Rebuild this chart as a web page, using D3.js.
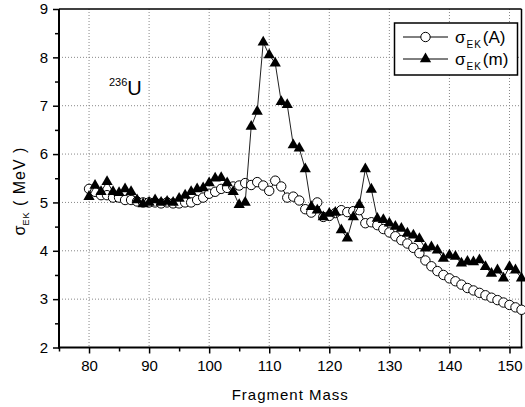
<!DOCTYPE html>
<html><head><meta charset="utf-8">
<script src="https://cdn.jsdelivr.net/npm/d3@7"></script>
<style>
body{margin:0;background:#fff;}
svg{display:block;font-family:"Liberation Sans",Arial,sans-serif;}
</style></head><body>
<svg id="c" width="525" height="407"></svg>
<script>
const massesA = d3.range(80, 153);
const sigmaA = [5.28,5.22,5.15,5.15,5.10,5.10,5.05,5.05,5.02,5.00,
  5.00,5.00,4.98,5.00,4.98,4.98,5.00,5.00,5.05,5.10,
  5.18,5.22,5.28,5.30,5.33,5.35,5.40,5.36,5.42,5.35,
  5.24,5.45,5.33,5.10,5.12,5.04,4.86,4.79,5.00,4.70,
  4.72,4.78,4.84,4.80,4.82,4.84,4.57,4.59,4.53,4.45,
  4.38,4.30,4.22,4.15,4.06,3.95,3.80,3.68,3.58,3.50,
  3.43,3.37,3.30,3.23,3.18,3.13,3.08,3.03,2.98,2.93,
  2.88,2.83,2.78];
const massesM = d3.range(80, 153);
const sigmaM = [5.12,5.35,5.22,5.43,5.22,5.20,5.28,5.22,5.05,4.97,
  5.00,5.05,5.00,5.02,5.00,5.08,5.15,5.22,5.28,5.30,
  5.40,5.50,5.51,5.40,5.22,4.95,5.00,6.57,6.88,8.31,
  8.05,7.88,7.08,7.02,6.19,6.12,5.69,4.91,4.84,4.70,
  4.77,4.79,4.43,4.26,4.70,4.95,5.69,5.27,4.67,4.64,
  4.57,4.50,4.46,4.36,4.32,4.25,4.05,4.08,4.01,3.84,
  3.91,3.88,3.74,3.78,3.77,3.81,3.67,3.53,3.60,3.43,
  3.67,3.60,3.43];
const xMajorTicks = [80,90,100,110,120,130,140,150];
const xMinorTicks = [75,85,95,105,115,125,135,145];
const yMajorTicks = [2,3,4,5,6,7,8,9];
const yMinorTicks = [2.5,3.5,4.5,5.5,6.5,7.5,8.5];
const seriesNames = ["(A)","(m)"];

const L=59, R=521.5, T=9, B=347.5;
const svg = d3.select("#c");
const x = d3.scaleLinear().domain([75,152]).range([L,R]);
const y = d3.scaleLinear().domain([2,9]).range([B,T]);

// grid
const g = svg.append("g");
g.selectAll("line.gx").data(xMajorTicks).join("line")
  .attr("x1",d=>x(d)).attr("x2",d=>x(d)).attr("y1",T).attr("y2",B)
  .attr("stroke","#888").attr("stroke-width",1).attr("stroke-dasharray","1,2");
g.selectAll("line.gy").data(yMajorTicks.filter(d=>d>2&&d<9)).join("line")
  .attr("y1",d=>y(d)).attr("y2",d=>y(d)).attr("x1",L).attr("x2",R)
  .attr("stroke","#888").attr("stroke-width",1).attr("stroke-dasharray","1,2");

// axes
const axB = svg.append("g").attr("transform",`translate(0,${B})`)
  .call(d3.axisBottom(x).tickValues(xMajorTicks).tickSize(6).tickPadding(4).tickFormat(d3.format("d")));
const axBm = svg.append("g").attr("transform",`translate(0,${B})`)
  .call(d3.axisBottom(x).tickValues(xMinorTicks).tickSize(4).tickFormat(""));
const axL = svg.append("g").attr("transform",`translate(${L},0)`)
  .call(d3.axisLeft(y).tickValues(yMajorTicks).tickSize(6).tickPadding(5).tickFormat(d3.format("d")));
const axLm = svg.append("g").attr("transform",`translate(${L},0)`)
  .call(d3.axisLeft(y).tickValues(yMinorTicks).tickSize(4).tickFormat(""));
[axB,axBm,axL,axLm].forEach(a=>{
  a.select(".domain").remove();
  a.selectAll(".tick line").attr("stroke","#000").attr("stroke-width",1.5);
  a.selectAll("text").attr("font-size",15).attr("fill","#000")
    .attr("font-family","Liberation Sans, Arial, sans-serif");
});
axB.selectAll("text").attr("dy","0.9em");

// frame
svg.append("line").attr("x1",L).attr("x2",L).attr("y1",T).attr("y2",B+1).attr("stroke","#000").attr("stroke-width",2);
svg.append("line").attr("x1",L-1).attr("x2",R+1).attr("y1",B).attr("y2",B).attr("stroke","#000").attr("stroke-width",2);
svg.append("line").attr("x1",L).attr("x2",R).attr("y1",T).attr("y2",T).attr("stroke","#000").attr("stroke-width",1.5);
svg.append("line").attr("x1",R).attr("x2",R).attr("y1",T).attr("y2",B).attr("stroke","#000").attr("stroke-width",1.5);

// data
const dataA = massesA.map((m,i)=>[m,sigmaA[i]]);
const dataM = massesM.map((m,i)=>[m,sigmaM[i]]);
const line = d3.line().x(d=>x(d[0])).y(d=>y(d[1]));
const pg = svg.append("g");
pg.append("path").attr("d",line(dataA)).attr("fill","none").attr("stroke","#000").attr("stroke-width",1);
pg.selectAll("circle").data(dataA).join("circle")
  .attr("cx",d=>x(d[0])).attr("cy",d=>y(d[1])).attr("r",4.7)
  .attr("fill","#fff").attr("stroke","#000").attr("stroke-width",1);
pg.append("path").attr("d",line(dataM)).attr("fill","none").attr("stroke","#222").attr("stroke-width",1);
const tri = d3.symbol().type(d3.symbolTriangle).size(55);
pg.selectAll("path.tri").data(dataM).join("path").attr("class","tri")
  .attr("d",tri).attr("transform",d=>`translate(${x(d[0])},${y(d[1])})`)
  .attr("fill","#000");

// axis titles
svg.append("text").attr("x",(L+R)/2).attr("y",400).attr("text-anchor","middle")
  .attr("font-size",15).attr("letter-spacing","1px").text("Fragment Mass");
const yl = svg.append("text").attr("transform","translate(25,191) rotate(-90)")
  .attr("text-anchor","middle").attr("font-size",16);
yl.append("tspan").text("σ");
yl.append("tspan").attr("font-size",9).attr("dy",4).attr("letter-spacing","1px").text("EK");
yl.append("tspan").attr("dy",-4).attr("letter-spacing","1px").text(" ( MeV )");

// annotation
const ann = svg.append("text").attr("x",109).attr("y",95);
ann.append("tspan").attr("font-size",11).attr("dy",-9).text("236");
ann.append("tspan").attr("font-size",20).attr("dy",9).text("U");

// legend
const lg = svg.append("g");
lg.append("rect").attr("x",394.5).attr("y",23).attr("width",123).attr("height",52)
  .attr("fill","#fff").attr("stroke","#000").attr("stroke-width",1.5);
const rows = [{n:seriesNames[0],t:"c",yy:37},{n:seriesNames[1],t:"t",yy:59}];
rows.forEach(r=>{
  lg.append("line").attr("x1",403).attr("x2",448).attr("y1",r.yy).attr("y2",r.yy).attr("stroke","#000").attr("stroke-width",1);
  if(r.t==="c") lg.append("circle").attr("cx",425.5).attr("cy",r.yy).attr("r",4.7).attr("fill","#fff").attr("stroke","#000");
  else lg.append("path").attr("d",tri).attr("transform",`translate(425.5,${r.yy})`).attr("fill","#000");
  const t = lg.append("text").attr("x",455).attr("y",r.yy+6).attr("font-size",17);
  t.append("tspan").text("σ");
  t.append("tspan").attr("font-size",10).attr("dy",5).attr("dx",1).attr("letter-spacing","1px").text("EK");
  t.append("tspan").attr("dy",-5).attr("dx",1).text(r.n);
});
</script>
</body></html>
